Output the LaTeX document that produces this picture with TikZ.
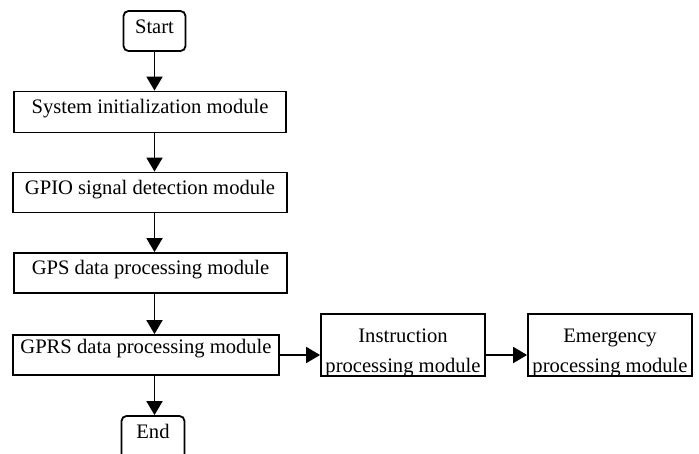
\documentclass[tikz,border=0pt]{standalone}
\usepackage{fontspec}
\setmainfont{Liberation Serif}
\usetikzlibrary{arrows.meta}
% text whose last baseline sits #1 below the node centre, taking no space itself
\newcommand{\boxtext}[2]{\raisebox{#1}[0pt][0pt]{\begin{tabular}[b]{@{}c@{}}#2\end{tabular}}}
\begin{document}
\begin{tikzpicture}[x=1pt,y=-1pt,
  font={\fontsize{20.6}{30}\selectfont},
  box/.style={draw, line width=1.8pt, inner sep=0pt},
  term/.style={box, rounded corners=5pt},
  arr/.style={line width=1.8pt, -{Triangle[length=14pt,width=16pt]}}]
\useasboundingbox (0,0) rectangle (699,453);

\node[term, minimum width=62pt, minimum height=40pt] (start) at (154.5,31) {\boxtext{-2pt}{Start}};
\node[box, minimum width=272pt, minimum height=41pt] (sys) at (150,112) {\boxtext{-1pt}{System initialization module}};
\node[box, minimum width=274pt, minimum height=40pt] (gpio) at (150,192.5) {\boxtext{-1.5pt}{GPIO signal detection module}};
\node[box, minimum width=273pt, minimum height=40pt] (gps) at (150.5,273) {\boxtext{-1pt}{GPS data processing module}};
\node[box, minimum width=266pt, minimum height=40pt] (gprs) at (146,355) {\boxtext{1.5pt}{GPRS data processing module}};
\node[term, minimum width=63pt, minimum height=44pt] (end) at (153,438) {\boxtext{0pt}{End}};
\node[box, minimum width=164pt, minimum height=62pt] (instr) at (403,345) {\boxtext{-27pt}{Instruction\\processing module}};
\node[box, minimum width=164pt, minimum height=62pt] (emerg) at (610,345) {\boxtext{-27pt}{Emergency\\processing module}};

\draw[arr] (start.south) -- (start.south |- sys.north);
\draw[arr] (start.south |- sys.south) -- (start.south |- gpio.north);
\draw[arr] (start.south |- gpio.south) -- (start.south |- gps.north);
\draw[arr] (start.south |- gps.south) -- (start.south |- gprs.north);
\draw[arr] (start.south |- gprs.south) -- (start.south |- end.north);
\draw[arr] (gprs.east) -- (gprs.east -| instr.west);
\draw[arr] (gprs.east -| instr.east) -- (gprs.east -| emerg.west);
\end{tikzpicture}
\end{document}
